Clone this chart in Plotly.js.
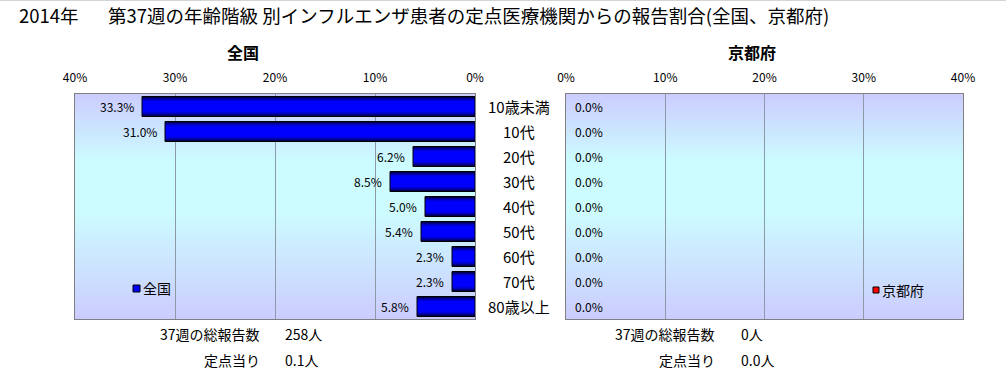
<!DOCTYPE html>
<html><head><meta charset="utf-8">
<script src="https://cdn.plot.ly/plotly-3.0.1.min.js"></script>
<style>html,body{margin:0;padding:0;background:#fff}#chart{width:1006px;height:373px}</style>
</head><body><div id="chart"></div>
<script>
const categories = ['10歳未満','10代','20代','30代','40代','50代','60代','70代','80歳以上'];
const nationalValues = [33.3, 31.0, 6.2, 8.5, 5.0, 5.4, 2.3, 2.3, 5.8];
const kyotoValues = [0, 0, 0, 0, 0, 0, 0, 0, 0];
const tickValues = [0, 10, 20, 30, 40];
const tickLabels = ['0%', '10%', '20%', '30%', '40%'];
const titleYear = '2014年';
const titleMain = '第37週の年齢階級 別インフルエンザ患者の定点医療機関からの報告割合(全国、京都府)';
const panelTitles = ['全国', '京都府'];
const summaryLabels = ['37週の総報告数', '定点当り'];
const nationalSummary = ['258人', '0.1人'];
const kyotoSummary = ['0人', '0.0人'];

const W = 1006, H = 373;
const px = v => v / W;
const py = v => 1 - v / H;
const FONT = '"Noto Sans CJK JP", "Noto Sans", sans-serif';

// bar gradient layers (outer dark -> inner bright)
const layers = [
  {w: 0.80, c: '#00003a'},
  {w: 0.72, c: '#000070'},
  {w: 0.64, c: '#0000a4'},
  {w: 0.56, c: '#0000cc'},
  {w: 0.48, c: '#0000ee'},
  {w: 0.38, c: '#0000ff'}
];
const traces = [];
layers.forEach(L => traces.push({
  type: 'bar', orientation: 'h', x: nationalValues, y: categories,
  xaxis: 'x', yaxis: 'y', width: L.w, marker: {color: L.c, line: {width: 0}},
  hoverinfo: 'skip', showlegend: false
}));
traces.push({
  type: 'bar', orientation: 'h', x: nationalValues, y: categories,
  xaxis: 'x', yaxis: 'y', width: 0.8, marker: {color: 'rgba(0,0,0,0)', line: {color: '#000', width: 1}},
  hoverinfo: 'skip', showlegend: false
});
traces.push({
  type: 'bar', orientation: 'h', x: kyotoValues, y: categories,
  xaxis: 'x2', yaxis: 'y2', width: 0.8, marker: {color: '#ff0000', line: {width: 0}},
  hoverinfo: 'skip', showlegend: false
});

// background gradient bands
function bgColor(t) {
  const stops = [[0, [204,204,255]], [0.3, [204,252,255]], [0.52, [204,252,255]], [1, [204,204,255]]];
  for (let i = 0; i < stops.length - 1; i++) {
    const [t0, c0] = stops[i], [t1, c1] = stops[i+1];
    if (t >= t0 && t <= t1) {
      const f = (t - t0) / (t1 - t0);
      const c = c0.map((v, k) => Math.round(v + (c1[k] - v) * f));
      return `rgb(${c[0]},${c[1]},${c[2]})`;
    }
  }
  return 'rgb(204,204,255)';
}
const shapes = [];
const N = 60;
['x', 'x2'].forEach((xa, idx) => {
  const ya = idx === 0 ? 'y' : 'y2';
  for (let i = 0; i < N; i++) {
    const t = (i + 0.5) / N;
    shapes.push({type: 'rect', layer: 'below', xref: xa + ' domain', yref: ya + ' domain',
      x0: 0, x1: 1, y0: 1 - i / N, y1: 1 - (i + 1) / N - 0.004,
      fillcolor: bgColor(t), line: {width: 0}});
  }
});
// top frame line
shapes.push({type: 'line', xref: 'paper', yref: 'paper', x0: 0, x1: 1, y0: 1, y1: 1, line: {color: '#d4d4d4', width: 2}});
// legend squares
shapes.push({type: 'rect', xref: 'paper', yref: 'paper', x0: px(133), x1: px(140), y0: py(292), y1: py(285), fillcolor: '#0000ff', line: {color: '#000', width: 1}});
shapes.push({type: 'rect', xref: 'paper', yref: 'paper', x0: px(873), x1: px(879), y0: py(293), y1: py(287), fillcolor: '#ff0000', line: {color: '#000', width: 1}});

const annotations = [];
const ann = (o) => annotations.push(Object.assign({showarrow: false, font: {family: FONT, size: 14, color: '#000'}}, o));
ann({text: titleYear, xref: 'paper', yref: 'paper', x: px(17), y: py(15), xanchor: 'left', yanchor: 'middle', font: {family: FONT, size: 18.5, color: '#000'}});
ann({text: titleMain, xref: 'paper', yref: 'paper', x: px(106), y: py(15), xanchor: 'left', yanchor: 'middle', font: {family: FONT, size: 18.5, color: '#000'}});
ann({text: '<b>' + panelTitles[0] + '</b>', xref: 'paper', yref: 'paper', x: px(243), y: py(52), xanchor: 'center', yanchor: 'middle', font: {family: FONT, size: 16, color: '#000'}});
ann({text: '<b>' + panelTitles[1] + '</b>', xref: 'paper', yref: 'paper', x: px(752), y: py(52), xanchor: 'center', yanchor: 'middle', font: {family: FONT, size: 16, color: '#000'}});
categories.forEach((c, i) => {
  ann({text: c, xref: 'paper', yref: 'y', x: px(519), y: c, xanchor: 'center', yanchor: 'middle', font: {family: FONT, size: 15, color: '#000'}});
  ann({text: nationalValues[i].toFixed(1) + '%', xref: 'x', yref: 'y', x: nationalValues[i], y: c, xanchor: 'right', yanchor: 'middle', xshift: -6, font: {family: FONT, size: 12, color: '#000'}});
  ann({text: kyotoValues[i].toFixed(1) + '%', xref: 'x2', yref: 'y2', x: kyotoValues[i], y: c, xanchor: 'left', yanchor: 'middle', xshift: 7, font: {family: FONT, size: 12, color: '#000'}});
});
ann({text: panelTitles[0], xref: 'paper', yref: 'paper', x: px(141), y: py(288), xanchor: 'left', yanchor: 'middle'});
ann({text: panelTitles[1], xref: 'paper', yref: 'paper', x: px(880), y: py(290), xanchor: 'left', yanchor: 'middle'});
[334, 360].forEach((yy, i) => {
  ann({text: summaryLabels[i], xref: 'paper', yref: 'paper', x: px(262), y: py(yy), xanchor: 'right', yanchor: 'middle'});
  ann({text: nationalSummary[i], xref: 'paper', yref: 'paper', x: px(283), y: py(yy), xanchor: 'left', yanchor: 'middle'});
  ann({text: summaryLabels[i], xref: 'paper', yref: 'paper', x: px(717), y: py(yy), xanchor: 'right', yanchor: 'middle'});
  ann({text: kyotoSummary[i], xref: 'paper', yref: 'paper', x: px(739), y: py(yy), xanchor: 'left', yanchor: 'middle'});
});

const xBase = {
  side: 'top', tickvals: tickValues, ticktext: tickLabels, showgrid: true, gridcolor: '#8d99a5', gridwidth: 1,
  zeroline: false, showline: true, mirror: true, linecolor: '#808080', linewidth: 1, ticks: 'outside', ticklen: 6,
  tickcolor: 'rgba(0,0,0,0)', tickfont: {family: FONT, size: 12, color: '#000'}, fixedrange: true
};
const yBase = {
  type: 'category', categoryarray: categories, range: [8.5, -0.5], showticklabels: false, showgrid: false,
  zeroline: false, showline: true, mirror: true, linecolor: '#808080', linewidth: 1, ticks: '',
  domain: [py(319), py(94)], fixedrange: true
};
const layout = {
  width: W, height: H, margin: {l: 0, r: 0, t: 0, b: 0},
  paper_bgcolor: '#fff', plot_bgcolor: 'rgba(0,0,0,0)',
  font: {family: FONT, color: '#000'},
  barmode: 'overlay', showlegend: false,
  xaxis: Object.assign({}, xBase, {domain: [px(75), px(475)], range: [40, 0], anchor: 'y'}),
  xaxis2: Object.assign({}, xBase, {domain: [px(566), px(963)], range: [0, 40], anchor: 'y2'}),
  yaxis: Object.assign({}, yBase, {anchor: 'x'}),
  yaxis2: Object.assign({}, yBase, {anchor: 'x2'}),
  shapes: shapes, annotations: annotations
};
Plotly.newPlot('chart', traces, layout, {displayModeBar: false, staticPlot: true});
</script></body></html>
